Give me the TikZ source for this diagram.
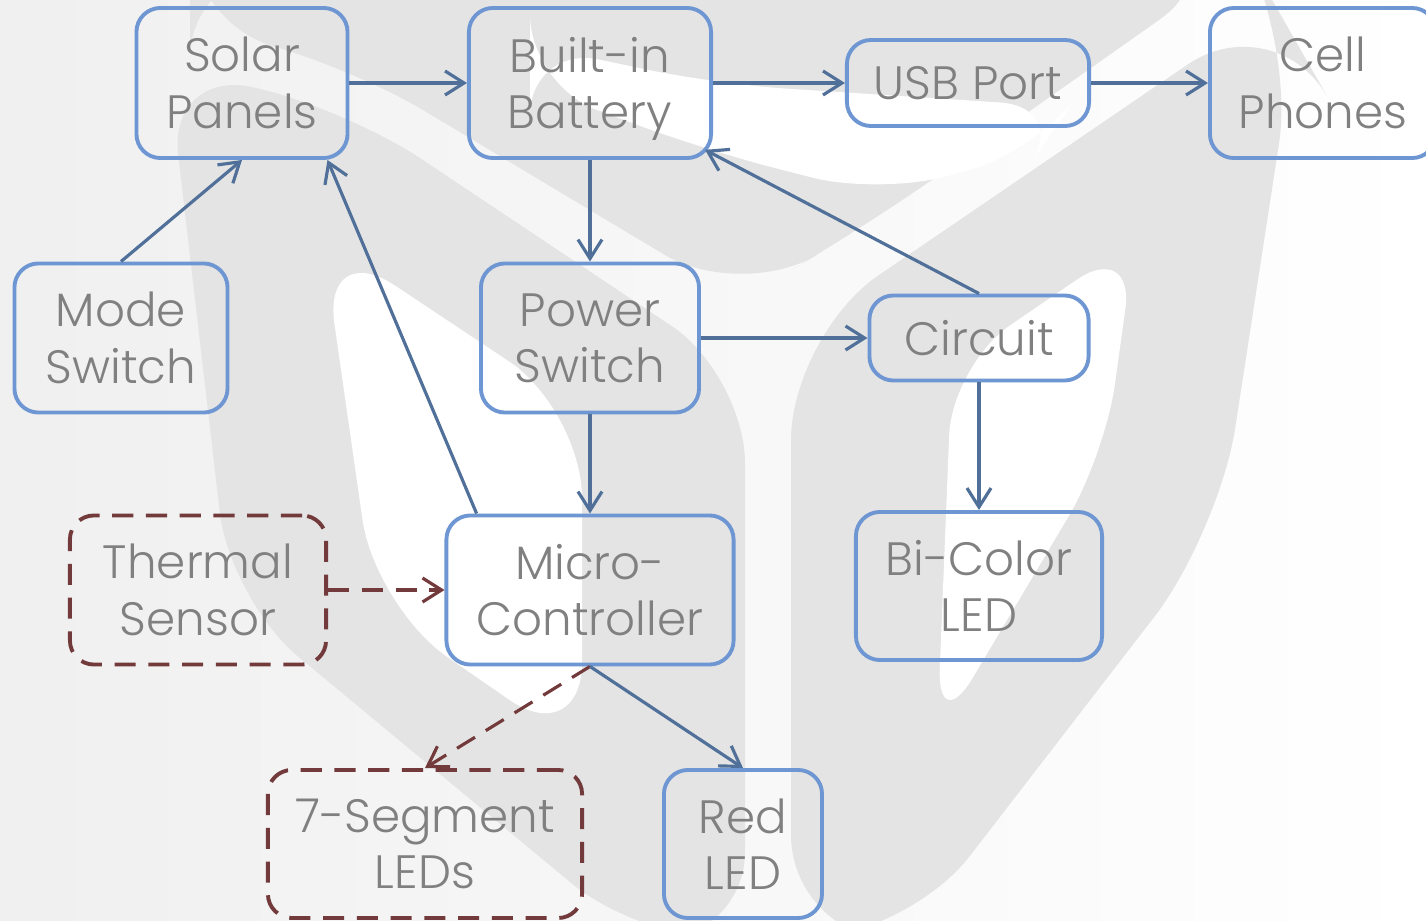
\documentclass[tikz,border=0pt]{standalone}
\usepackage{fontspec}
\setmainfont{Poppins Light}
\usetikzlibrary{arrows.meta, positioning}

\definecolor{boxblue}{HTML}{6E96D2}
\definecolor{linkblue}{HTML}{50709A}
\definecolor{optred}{HTML}{733A3C}
\definecolor{txtgray}{HTML}{808080}
\definecolor{wmgray}{HTML}{E4E4E4}

\begin{document}
\begin{tikzpicture}[x=0.01cm, y=-0.01cm,
    block/.style={draw=boxblue, line width=1.1pt, rounded corners=0.24cm,
      align=center, inner sep=0pt, text=txtgray,
      font=\fontsize{13.3}{16}\selectfont},
    optblock/.style={block, draw=optred, dash pattern=on 6pt off 3.6pt},
    link/.style={draw=linkblue, line width=0.9pt,
      -{Straight Barb[length=1.9mm, width=2.4mm]}},
    optlink/.style={link, draw=optred, dash pattern=on 6pt off 3.6pt}]
      \useasboundingbox (0,0) rectangle (1426,921);
      \fill[left color=black!6, right color=white] (0,0) rectangle (1426,921);

      % Watermark: grey cube behind the chart
      \fill[wmgray, rounded corners=25] (190,-30) -- (1230,-30) -- (868,225) -- (740,300) -- (348,65) -- (190,25) -- cycle;
      \fill[white, rounded corners=20] (530,45) -- (715,84) -- (1070,107) -- (1040,150) -- (880,195) -- (705,150) -- (530,85) -- cycle;
      \fill[wmgray, rounded corners=25] (168,67) -- (348,110) -- (745,375) -- (745,940) -- (640,940) -- (230,600) -- cycle;
      \fill[white, rounded corners=25] (322,237) -- (582,410) -- (582,750) -- (375,607) -- cycle;
      \fill[wmgray, rounded corners=30] (791,940) -- (791,335) -- (1275,5) -- (1295,40) -- (1258,280) -- (1219,533) -- (905,940) -- cycle;
      \fill[white, rounded corners=20] (937,738) -- (952,365) -- (1135,240) -- (1105,455) -- cycle;

      % Top row
      \node[block, minimum width=2.11cm, minimum height=1.50cm] (solar) at (242,83) {Solar\\Panels};
      \node[block, minimum width=2.42cm, minimum height=1.50cm] (battery) at (590,83) {Built-in\\Batter\smash{y}};
      \node[block, minimum width=2.42cm, minimum height=0.86cm] (usb) at (968,83) {USB Port};
      \node[block, minimum width=2.26cm, minimum height=1.50cm] (phones) at (1323,83) {Cell\\Phones};

      % Second row
      \node[block, minimum width=2.13cm, minimum height=1.49cm] (mode) at (121,338) {Mode\\Switch};
      \node[block, minimum width=2.18cm, minimum height=1.49cm] (power) at (590,338) {Power\\Switch};
      \node[block, minimum width=2.19cm, minimum height=0.85cm] (circuit) at (979,338) {Circuit};

      % Third row
      \node[optblock, minimum width=2.56cm, minimum height=1.49cm] (thermal) at (198,590) {Thermal\\Sensor};
      \node[block, minimum width=2.87cm, minimum height=1.49cm] (micro) at (590,590) {Micro-\\Controller};
      \node[block, minimum width=2.46cm, minimum height=1.48cm] (bicolor) at (979,586) {Bi-Color\\LED};

      % Bottom row
      \node[optblock, minimum width=3.14cm, minimum height=1.48cm] (segled) at (425,844) {7-Segment\\LEDs};
      \node[block, minimum width=1.58cm, minimum height=1.48cm] (redled) at (743,844) {Red\\LED};

      % Power path
      \draw[link] (solar) -- (battery);
      \draw[link] (battery) -- (usb);
      \draw[link] (usb) -- (phones);
      \draw[link] (mode.north) -- (solar.south);
      \draw[link] (micro.146) -- (solar.-42);
      \draw[link, shorten >=-0.09cm] (circuit.north) -- (battery.-30);
      \draw[link] (battery) -- (power);
      \draw[link] (power) -- (circuit);
      \draw[link] (power) -- (micro);
      \draw[link] (circuit) -- (bicolor);

      % Optional parts
      \draw[optlink] (thermal) -- (micro);
      \draw[optlink] (micro.south) -- (segled.north);
      \draw[link] (micro.south) -- (redled.north);
\end{tikzpicture}
\end{document}
